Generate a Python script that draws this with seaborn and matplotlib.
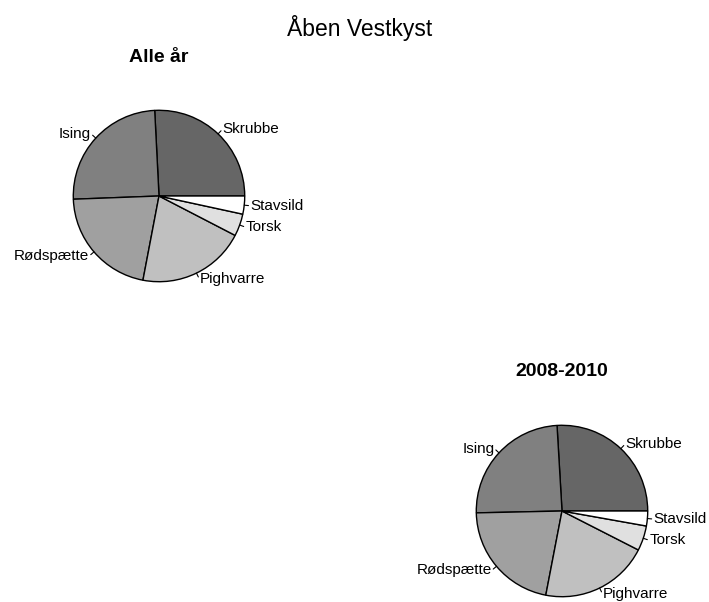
import numpy as np
import matplotlib
matplotlib.use("Agg")
import matplotlib.pyplot as plt
import seaborn as sns

# species in the order R draws them (counter-clockwise from 3 o'clock)
species = ["Skrubbe", "Ising", "Rødspætte", "Pighvarre", "Torsk", "Stavsild"]
alle_aar = [25.8, 24.8, 21.4, 20.4, 4.2, 3.4]
aar_2008_2010 = [25.9, 24.4, 21.6, 20.5, 4.7, 2.8]
greys = ["#666666", "#808080", "#a0a0a0", "#c0c0c0", "#e0e0e0", "#ffffff"]

sns.set_theme(style="white")
plt.rcParams["font.family"] = ["Liberation Sans", "DejaVu Sans"]

W, H = 709, 602
fig = plt.figure(figsize=(W / 100, H / 100), dpi=100)
fig.patch.set_facecolor("white")


def r_pie(cx, cy, values, title, ty):
    # axes box of 300 px around the centre, 1 data unit ~ 86 px
    size = 300
    ax = fig.add_axes([(cx - size / 2) / W, 1 - (cy + size / 2) / H, size / W, size / H])
    ax.pie(values, colors=greys, startangle=0, counterclock=True,
           wedgeprops=dict(edgecolor="black", linewidth=1.0))
    ax.set_xlim(-1.75, 1.75)
    ax.set_ylim(-1.75, 1.75)
    ax.set_aspect("equal")
    ax.axis("off")

    vals = np.array(values, dtype=float)
    edges = np.concatenate([[0], np.cumsum(vals) / vals.sum()]) * 2 * np.pi
    mids = (edges[:-1] + edges[1:]) / 2
    for lab, a in zip(species, mids):
        x, y = np.cos(a), np.sin(a)
        ax.plot([x, 1.05 * x], [y, 1.05 * y], color="black", lw=0.8)
        ax.text(1.075 * x, 1.075 * y, lab, ha="left" if x >= 0 else "right",
                va="center", fontsize=11, color="black", clip_on=False)

    fig.text(cx / W, 1 - ty / H, title, ha="center", va="center",
             fontsize=14, fontweight="bold", color="black")


r_pie(159, 196, alle_aar, "Alle år", 57)
r_pie(562, 511, aar_2008_2010, "2008-2010", 372)

fig.text(360 / W, 1 - 28 / H, "Åben Vestkyst", ha="center", va="center",
         fontsize=16.5, color="black")

fig.savefig("out.png", dpi=100)
